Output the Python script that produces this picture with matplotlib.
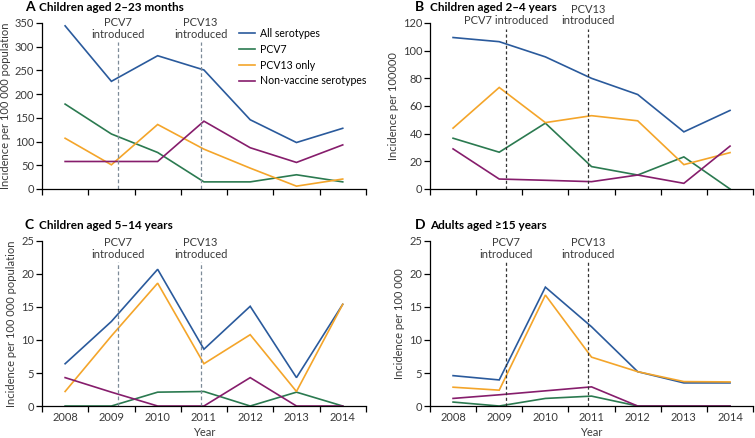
"""
Invasive pneumococcal disease incidence by age group, 2008-2014,
with PCV7 / PCV13 introduction dates marked.
"""

import matplotlib
matplotlib.use("Agg")
import matplotlib.pyplot as plt
import matplotlib.transforms as mtransforms

# ──────────────────────────────────────────────
# Data
# ──────────────────────────────────────────────
YEARS = [2008, 2009, 2010, 2011, 2012, 2013, 2014]
SERIES_NAMES = ["All serotypes", "PCV7", "PCV13 only", "Non-vaccine serotypes"]

# A – children aged 2-23 months
a_all   = [344, 227, 281, 251, 146, 98, 128]
a_pcv7  = [179, 116, 77, 15, 15, 30, 15]
a_pcv13 = [107, 51, 136, 84, 44, 6, 21]
a_nvt   = [58, 58, 58, 143, 87, 56, 93]

# B – children aged 2-4 years
b_all   = [109.5, 106.5, 95.5, 80, 68.3, 41.3, 56.8]
b_pcv7  = [36.7, 26.6, 47.6, 16.2, 10.1, 23.2, 0]
b_pcv13 = [44, 73.4, 48, 53, 49.3, 17.6, 26.3]
b_nvt   = [29, 7.2, 6.3, 5.3, 10.1, 4.1, 31]

# C – children aged 5-14 years
c_all   = [6.4, 12.8, 20.7, 8.6, 15.1, 4.3, 15.4]
c_pcv7  = [0, 0, 2.1, 2.2, 0, 2.1, 0]
c_pcv13 = [2.2, 10.6, 18.6, 6.4, 10.8, 2.2, 15.4]
c_nvt   = [4.3, 2.1, 0, 0, 4.3, 0, 0]

# D – adults aged >=15 years
d_all   = [4.6, 3.95, 18.0, 12.0, 5.2, 3.5, 3.5]
d_pcv7  = [0.6, 0, 1.15, 1.5, 0, 0, 0]
d_pcv13 = [2.85, 2.4, 16.8, 7.4, 5.2, 3.7, 3.65]
d_nvt   = [1.15, 1.7, 2.3, 2.9, 0, 0, 0]

PCV7_DATE  = 2009.14
PCV13_DATE = 2010.93

# ──────────────────────────────────────────────
# Style
# ──────────────────────────────────────────────
COLORS = ["#2a5a9c", "#2b7a50", "#f4a52a", "#861d6c"]
plt.rcParams["font.family"] = ["Lato", "DejaVu Sans"]
FS = 8
TEXT_COLOR = "#3a3a3a"


def plot_panel(ax, series, ymax, ystep, letter, title, ylabel,
               pcv7_label, show_xlabels, vline_top, vline_color, vline_style,
               letter_dx, title_dx):
    for vals, color, name in zip(series, COLORS, SERIES_NAMES):
        ax.plot(YEARS, vals, color=color, linewidth=1.2, label=name,
                solid_joinstyle="miter", clip_on=False)

    trans = mtransforms.blended_transform_factory(ax.transData, ax.transAxes)
    for x, lbl in [(PCV7_DATE, pcv7_label), (PCV13_DATE, "PCV13\nintroduced")]:
        ax.plot([x, x], [0, vline_top], transform=trans, color=vline_color,
                linestyle=vline_style, linewidth=0.9, clip_on=False)
        ax.text(x, vline_top + 0.015, lbl, transform=trans, ha="center",
                va="bottom", fontsize=FS, color=TEXT_COLOR, linespacing=1.05)

    ax.set_xlim(2007.5, 2014.5)
    ax.set_ylim(0, ymax)
    ax.set_yticks(range(0, ymax + 1, ystep))
    ax.set_xticks([y - 0.5 for y in YEARS] + [YEARS[-1] + 0.5])
    ax.set_xticks(YEARS, minor=True)
    ax.tick_params(axis="x", which="major", length=4, width=0.9, labelbottom=False)
    if show_xlabels:
        ax.set_xticklabels([str(y) for y in YEARS], minor=True)
        ax.tick_params(axis="x", which="minor", length=0, labelsize=FS, pad=4,
                       labelcolor=TEXT_COLOR)
        ax.set_xlabel("Year", fontsize=FS, color=TEXT_COLOR, labelpad=3)
    else:
        ax.tick_params(axis="x", which="minor", length=0, labelbottom=False)
    ax.tick_params(axis="y", length=4, width=0.9, labelsize=FS, pad=1.5,
                   labelcolor=TEXT_COLOR)
    ax.set_ylabel(ylabel, fontsize=FS, color=TEXT_COLOR, labelpad=3)

    for side in ("top", "right"):
        ax.spines[side].set_visible(False)
    for side in ("left", "bottom"):
        ax.spines[side].set_linewidth(0.9)

    # panel letter and heading sit on a common baseline above the axes
    off = mtransforms.offset_copy(ax.transAxes, fig=ax.figure, x=letter_dx,
                                  y=12.3, units="dots")
    ax.text(0, 1, letter, transform=off, fontsize=10, fontweight="bold",
            ha="left", va="baseline")
    off = mtransforms.offset_copy(ax.transAxes, fig=ax.figure, x=title_dx,
                                  y=12.3, units="dots")
    ax.text(0, 1, title, transform=off, fontsize=8.5, fontweight="bold",
            ha="left", va="baseline")


fig = plt.figure(figsize=(7.55, 4.38), dpi=100)

ax_a = fig.add_axes([0.0556, 0.5685, 0.429, 0.379])
ax_b = fig.add_axes([0.5695, 0.5685, 0.428, 0.379])
ax_c = fig.add_axes([0.0556, 0.0730, 0.429, 0.377])
ax_d = fig.add_axes([0.5695, 0.0730, 0.428, 0.377])

plot_panel(ax_a, [a_all, a_pcv7, a_pcv13, a_nvt], 350, 50, "A",
           "Children aged 2–23 months", "Incidence per 100 000 population",
           "PCV7\nintroduced", False, 0.885, "#7d8b98", (0, (3, 2)), -17, -3)
plot_panel(ax_b, [b_all, b_pcv7, b_pcv13, b_nvt], 120, 20, "B",
           "Children aged 2–4 years", "Incidence per 100000",
           "PCV7 introduced", False, 0.965, "#333333", (0, (2.5, 2)), -15, 0)
plot_panel(ax_c, [c_all, c_pcv7, c_pcv13, c_nvt], 25, 5, "C",
           "Children aged 5–14 years", "Incidence per 100 000 population",
           "PCV7\nintroduced", True, 0.87, "#7d8b98", (0, (3, 2)), -17, -3)
plot_panel(ax_d, [d_all, d_pcv7, d_pcv13, d_nvt], 25, 5, "D",
           "Adults aged ≥15 years", "Incidence per 100 000",
           "PCV7\nintroduced", True, 0.87, "#333333", (0, (2.5, 2)), -15, 0)

ax_a.legend(loc="upper right", bbox_to_anchor=(1.015, 0.995), frameon=False,
            fontsize=7.6, handlelength=1.5, handletextpad=0.5,
            labelspacing=0.45, borderaxespad=0)

fig.savefig("out.png", dpi=100)
